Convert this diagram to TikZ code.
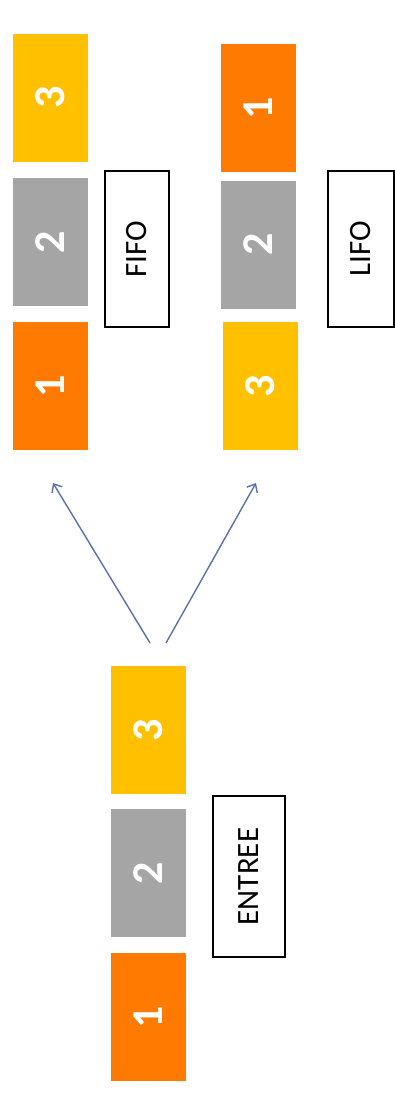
\documentclass[tikz,border=0pt]{standalone}
\usepackage{fontspec}
\setmainfont{Carlito}
\usetikzlibrary{arrows.meta}
\definecolor{cOrange}{HTML}{FF7A00}
\definecolor{cGray}{HTML}{A5A5A5}
\definecolor{cYellow}{HTML}{FFC000}
\definecolor{cArrow}{HTML}{5A6FB0}
\tikzset{
  block/.style={rectangle, inner sep=0pt, minimum width=128pt, minimum height=75pt,
    text=white, font=\fontsize{44}{44}\selectfont\bfseries, rotate=90},
  orangeblock/.style={block, fill=cOrange},
  grayblock/.style={block, fill=cGray},
  yellowblock/.style={block, fill=cYellow},
  labelbox/.style={rectangle, draw=black, line width=1.3pt, inner sep=0pt,
    font=\fontsize{31}{31}\selectfont, rotate=90},
  flow/.style={draw=cArrow, line width=1.4pt, -{Straight Barb[length=7pt,width=12pt]}}
}
\begin{document}
\begin{tikzpicture}[x=1pt,y=-1pt]
\useasboundingbox (0,0) rectangle (395,1096);
% FIFO column
\node[yellowblock] (f3) at (50.5,97.5) {3};
\node[grayblock]   (f2) at (50.5,242) {2};
\node[orangeblock] (f1) at (50.5,386) {1};
\node[labelbox, minimum width=156pt, minimum height=64pt] (fifo) at (137,249) {FIFO};
% LIFO column
\node[orangeblock] (l1) at (258,108) {1};
\node[grayblock]   (l2) at (258,244.5) {2};
\node[yellowblock] (l3) at (260,386) {3};
\node[labelbox, minimum width=156pt, minimum height=66pt] (lifo) at (361,249) {LIFO};
% ENTREE column
\node[yellowblock] (e3) at (148,730) {3};
\node[grayblock]   (e2) at (148,873) {2};
\node[orangeblock] (e1) at (148,1017) {1};
\node[labelbox, minimum width=161pt, minimum height=72pt] (entree) at (249,876.5) {ENTREE};
% arrows
\coordinate (s1) at (150,643);
\coordinate (s2) at (166,643);
\coordinate (t1) at (53,483);
\coordinate (t2) at (256,483);
\draw[flow] (s1) -- (t1);
\draw[flow] (s2) -- (t2);
\end{tikzpicture}
\end{document}
